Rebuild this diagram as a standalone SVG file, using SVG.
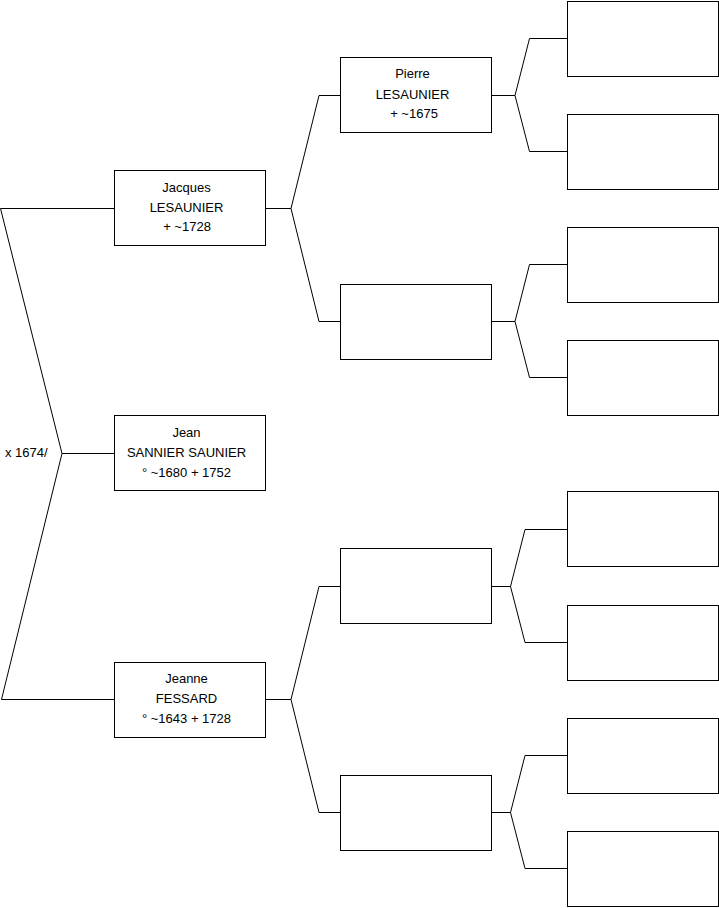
<svg xmlns="http://www.w3.org/2000/svg" width="719" height="908" viewBox="0 0 719 908">
<style>
.box{fill:#fff;stroke:#000;stroke-width:1}
.ln{fill:none;stroke:#000;stroke-width:1}
text{font-family:"Liberation Sans",Arial,sans-serif;font-size:13px;fill:#000}
.c{text-anchor:middle}
</style>
<rect width="719" height="908" fill="#fff"/>
<g id="connectors">
<polyline class="ln" points="114.5,208.5 0.5,208.5 62,453.5 114.5,453.5"/>
<polyline class="ln" points="62,453.5 1.5,699.5 114.5,699.5"/>
<polyline class="ln" points="265.5,208.5 291,208.5 319,95.5 340.5,95.5"/>
<polyline class="ln" points="291,208.5 319,321.5 340.5,321.5"/>
<polyline class="ln" points="265.5,699.5 291,699.5 319,586.5 340.5,586.5"/>
<polyline class="ln" points="291,699.5 319,812.5 340.5,812.5"/>
<polyline class="ln" points="491.5,95.5 515,95.5 529.5,38.5 567.5,38.5"/>
<polyline class="ln" points="515,95.5 529.5,151.5 567.5,151.5"/>
<polyline class="ln" points="491.5,321.5 515,321.5 529.5,264.5 567.5,264.5"/>
<polyline class="ln" points="515,321.5 529.5,377.5 567.5,377.5"/>
<polyline class="ln" points="491.5,586.5 510.5,586.5 525,529.5 567.5,529.5"/>
<polyline class="ln" points="510.5,586.5 525,642.5 567.5,642.5"/>
<polyline class="ln" points="491.5,812.5 510.5,812.5 525,755.5 567.5,755.5"/>
<polyline class="ln" points="510.5,812.5 525,868.5 567.5,868.5"/>
</g>
<g id="marriage-label"><text x="5" y="457">x 1674/</text></g>
<g id="jean">
<rect class="box" x="114.5" y="415.5" width="151" height="75"/>
<text class="c" x="186.5" y="437">Jean</text>
<text class="c" x="186.5" y="457">SANNIER SAUNIER</text>
<text class="c" x="186.5" y="476.5">° ~1680 + 1752</text>
</g>
<g id="jacques">
<rect class="box" x="114.5" y="170.5" width="151" height="75"/>
<text class="c" x="186.5" y="191.5">Jacques</text>
<text class="c" x="186.5" y="211.5">LESAUNIER</text>
<text class="c" x="187" y="231">+ ~1728</text>
</g>
<g id="jeanne">
<rect class="box" x="114.5" y="662.5" width="151" height="75"/>
<text class="c" x="186.5" y="682.5">Jeanne</text>
<text class="c" x="186.5" y="702.5">FESSARD</text>
<text class="c" x="186.5" y="722.5">° ~1643 + 1728</text>
</g>
<g id="pierre">
<rect class="box" x="340.5" y="57.5" width="151" height="75"/>
<text class="c" x="412.5" y="78">Pierre</text>
<text class="c" x="412.5" y="98.5">LESAUNIER</text>
<text class="c" x="414" y="118">+ ~1675</text>
</g>
<g id="g2-2"><rect class="box" x="340.5" y="284.5" width="151" height="75"/></g>
<g id="g2-3"><rect class="box" x="340.5" y="548.5" width="151" height="75"/></g>
<g id="g2-4"><rect class="box" x="340.5" y="775.5" width="151" height="75"/></g>
<g id="g3-1"><rect class="box" x="567.5" y="1.5" width="151" height="75"/></g>
<g id="g3-2"><rect class="box" x="567.5" y="114.5" width="151" height="75"/></g>
<g id="g3-3"><rect class="box" x="567.5" y="227.5" width="151" height="75"/></g>
<g id="g3-4"><rect class="box" x="567.5" y="340.5" width="151" height="75"/></g>
<g id="g3-5"><rect class="box" x="567.5" y="491.5" width="151" height="75"/></g>
<g id="g3-6"><rect class="box" x="567.5" y="605.5" width="151" height="75"/></g>
<g id="g3-7"><rect class="box" x="567.5" y="718.5" width="151" height="75"/></g>
<g id="g3-8"><rect class="box" x="567.5" y="831.5" width="151" height="75"/></g>
</svg>
